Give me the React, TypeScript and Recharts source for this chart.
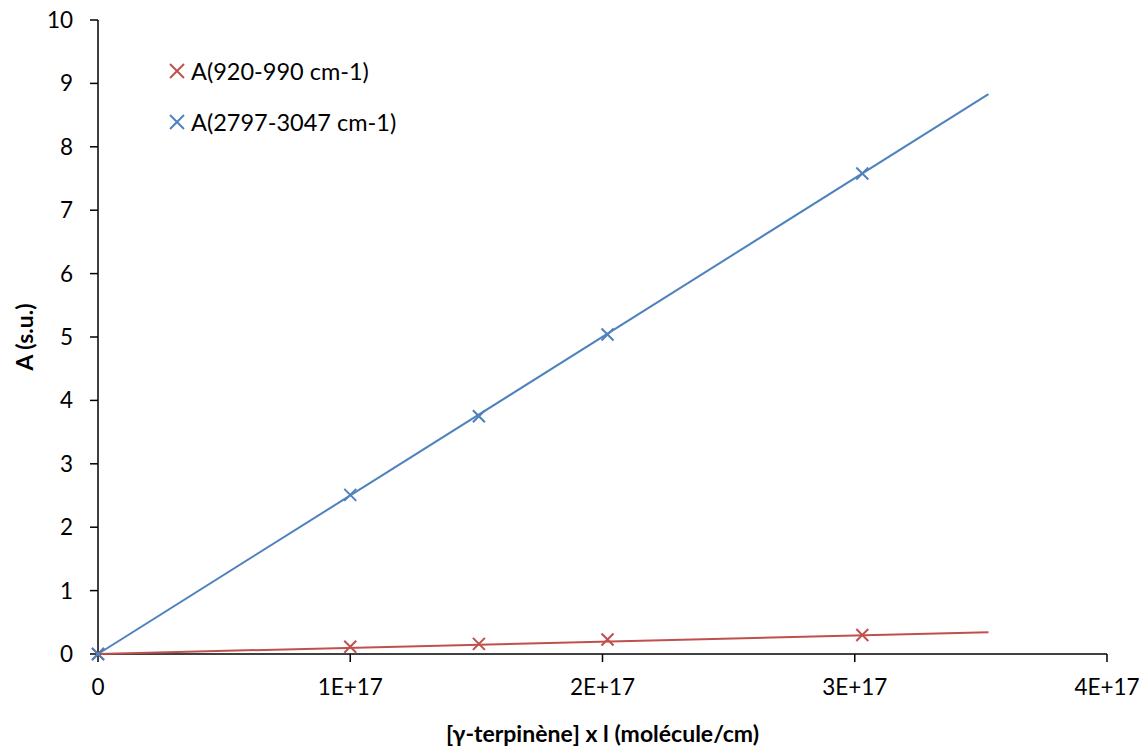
import { Scatter, ScatterChart, XAxis, YAxis } from "recharts";

const X_VALUES = [0, 1.0e17, 1.51e17, 2.02e17, 3.03e17];
const A_920_990 = [0, 0.115, 0.16, 0.23, 0.3];
const A_2797_3047 = [0, 2.51, 3.75, 5.04, 7.58];

// linear trend lines (through origin), end at last x shown in the picture
const TREND_X = [0, 3.53e17];
const TREND_920_990 = [0, 0.345];
const TREND_2797_3047 = [0, 8.83];

const X_TICKS = [0, 1e17, 2e17, 3e17, 4e17];
const Y_TICKS = [0, 1, 2, 3, 4, 5, 6, 7, 8, 9, 10];

const ROUGE = "#c0504d";
const BLEU = "#4f81bd";
const FONT = "Lato, 'Open Sans', sans-serif";

const points = (xs: number[], ys: number[]) => xs.map((x, i) => ({ x, y: ys[i] }));

const dataRouge = points(X_VALUES, A_920_990);
const dataBleu = points(X_VALUES, A_2797_3047);
const trendRouge = points(TREND_X, TREND_920_990);
const trendBleu = points(TREND_X, TREND_2797_3047);

const croix = (couleur: string) => (props: any) => {
    const { cx, cy } = props;
    const r = 6;
    return (
        <g stroke={couleur} strokeWidth={2}>
            <line x1={cx - r} y1={cy - r} x2={cx + r} y2={cy + r} />
            <line x1={cx - r} y1={cy + r} x2={cx + r} y2={cy - r} />
        </g>
    );
};

const rien = () => <g />;

const formatX = (v: number) => (v === 0 ? "0" : `${Math.round(v / 1e17)}E+17`);

const legende = [
    { nom: "A(920-990 cm-1)", couleur: ROUGE },
    { nom: "A(2797-3047 cm-1)", couleur: BLEU },
];

function Legende() {
    return (
        <div
            style={{
                position: "absolute",
                left: 168,
                top: 45,
                fontFamily: FONT,
                fontSize: 23.5,
                color: "#000",
            }}
        >
            {legende.map((item) => (
                <div
                    key={item.nom}
                    style={{ display: "flex", alignItems: "center", height: 51 }}
                >
                    <svg width={18} height={18} style={{ marginRight: 5 }}>
                        <g stroke={item.couleur} strokeWidth={2}>
                            <line x1={2} y1={2} x2={16} y2={16} />
                            <line x1={2} y1={16} x2={16} y2={2} />
                        </g>
                    </svg>
                    <span>{item.nom}</span>
                </div>
            ))}
        </div>
    );
}

export default function App() {
    return (
        <div style={{ position: "absolute", left: 0, top: 0, background: "#fff" }}>
            <ScatterChart
                width={1148}
                height={754}
                margin={{ top: 20, right: 41, left: 8, bottom: 8 }}
            >
                <XAxis
                    type="number"
                    dataKey="x"
                    domain={[0, 4e17]}
                    ticks={X_TICKS}
                    tickFormatter={formatX}
                    height={92}
                    stroke="#000"
                    strokeWidth={1.5}
                    tickSize={8}
                    tickMargin={17}
                    tick={{ fill: "#000", fontSize: 22.5, fontFamily: FONT }}
                    label={{
                        value: "[γ-terpinène] x l (molécule/cm)",
                        position: "insideBottom",
                        offset: 4,
                        fill: "#000",
                        fontSize: 23,
                        fontWeight: "bold",
                        fontFamily: FONT,
                    }}
                />
                <YAxis
                    type="number"
                    dataKey="y"
                    domain={[0, 10]}
                    ticks={Y_TICKS}
                    width={90}
                    stroke="#000"
                    strokeWidth={1.5}
                    tickSize={8}
                    tickMargin={17}
                    tick={{ fill: "#000", fontSize: 22.5, fontFamily: FONT }}
                    label={{
                        value: "A (s.u.)",
                        angle: -90,
                        position: "insideLeft",
                        offset: 17,
                        style: { textAnchor: "middle" },
                        fill: "#000",
                        fontSize: 23,
                        fontWeight: "bold",
                        fontFamily: FONT,
                    }}
                />
                <Scatter
                    data={trendBleu}
                    line={{ stroke: BLEU, strokeWidth: 2 }}
                    shape={rien}
                    legendType="none"
                    isAnimationActive={false}
                />
                <Scatter
                    data={trendRouge}
                    line={{ stroke: ROUGE, strokeWidth: 2 }}
                    shape={rien}
                    legendType="none"
                    isAnimationActive={false}
                />
                <Scatter
                    name="A(920-990 cm-1)"
                    data={dataRouge}
                    shape={croix(ROUGE)}
                    isAnimationActive={false}
                />
                <Scatter
                    name="A(2797-3047 cm-1)"
                    data={dataBleu}
                    shape={croix(BLEU)}
                    isAnimationActive={false}
                />
            </ScatterChart>
            <Legende />
        </div>
    );
}
